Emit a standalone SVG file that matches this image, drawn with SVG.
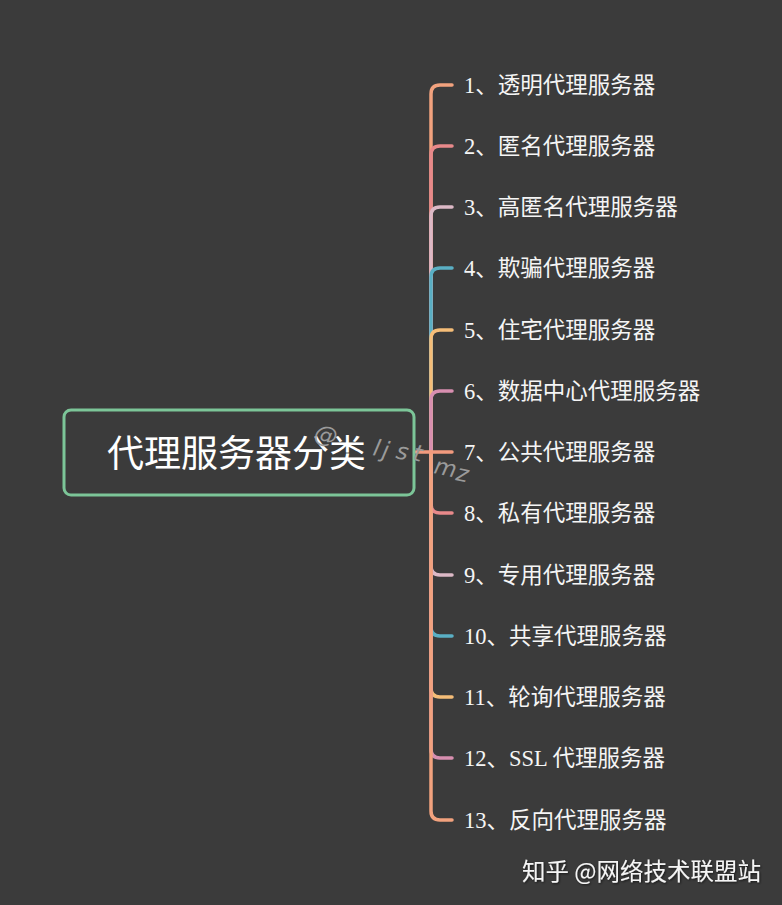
<svg xmlns="http://www.w3.org/2000/svg" width="782" height="905" viewBox="0 0 782 905">
<style>
.bg{fill:#3b3b3b}
.root{fill:none;stroke:#7cc598;stroke-width:3}
.rt{font-family:"Noto Sans CJK SC","Noto Sans",sans-serif;font-size:37px;fill:#ffffff}
.it{font-family:"Liberation Serif","Noto Sans CJK SC",serif;font-size:22.5px;fill:#f5f5f5}
.br{fill:none;stroke-width:3.5;stroke-linecap:round;stroke-linejoin:round}
.wm{font-family:"DejaVu Sans","Liberation Sans",sans-serif;font-style:italic;font-size:23px;fill:#9a9a9a}
.ft{font-family:"Noto Sans CJK SC","Noto Sans",sans-serif;font-size:23.5px;fill:#f5f5f5}
</style>
<defs>
<filter id="sh" x="-5%" y="-20%" width="110%" height="140%">
<feDropShadow dx="1" dy="1" stdDeviation="0.8" flood-color="#000000" flood-opacity="0.6"/>
</filter>
</defs>
<rect class="bg" x="0" y="0" width="782" height="905"/>
<g id="connectors">
<path class="br" stroke="#f2a27e" d="M431,452 V94 Q431,85 440,85 H452"/>
<path class="br" stroke="#e8898a" d="M431,452 V155 Q431,146 440,146 H452"/>
<path class="br" stroke="#dcb9c6" d="M431,452 V216 Q431,207 440,207 H452"/>
<path class="br" stroke="#5aafc4" d="M431,452 V277 Q431,268 440,268 H452"/>
<path class="br" stroke="#f5bd78" d="M431,452 V339 Q431,330 440,330 H452"/>
<path class="br" stroke="#d88fb0" d="M431,452 V400 Q431,391 440,391 H452"/>
<path class="br" stroke="#e8898a" d="M431,452 V504 Q431,513 440,513 H452"/>
<path class="br" stroke="#dcb9c6" d="M431,452 V566 Q431,575 440,575 H452"/>
<path class="br" stroke="#5aafc4" d="M431,452 V627 Q431,636 440,636 H452"/>
<path class="br" stroke="#f5bd78" d="M431,452 V688 Q431,697 440,697 H452"/>
<path class="br" stroke="#d88fb0" d="M431,452 V749 Q431,758 440,758 H452"/>
<path class="br" stroke="#f2a27e" d="M431,452 V811 Q431,820 440,820 H452"/>
<path class="br" stroke="#f29a7e" d="M416,452 H452"/>
</g>
<g id="root">
<rect class="root" x="64" y="410" width="350" height="85" rx="7"/>
<text class="rt" x="107" y="467">代理服务器分类</text>
</g>
<g id="n1"><text class="it" x="464" y="93">1、透明代理服务器</text></g>
<g id="n2"><text class="it" x="464" y="154">2、匿名代理服务器</text></g>
<g id="n3"><text class="it" x="464" y="215">3、高匿名代理服务器</text></g>
<g id="n4"><text class="it" x="464" y="276">4、欺骗代理服务器</text></g>
<g id="n5"><text class="it" x="464" y="338">5、住宅代理服务器</text></g>
<g id="n6"><text class="it" x="464" y="399">6、数据中心代理服务器</text></g>
<g id="n7"><text class="it" x="464" y="460">7、公共代理服务器</text></g>
<g id="n8"><text class="it" x="464" y="521">8、私有代理服务器</text></g>
<g id="n9"><text class="it" x="464" y="583">9、专用代理服务器</text></g>
<g id="n10"><text class="it" x="464" y="644">10、共享代理服务器</text></g>
<g id="n11"><text class="it" x="464" y="705">11、轮询代理服务器</text></g>
<g id="n12"><text class="it" x="464" y="766">12、SSL 代理服务器</text></g>
<g id="n13"><text class="it" x="464" y="828">13、反向代理服务器</text></g>
<g id="watermark">
<text class="wm" x="313 372 381 395 412 433 455" y="440 455 457 458 460 473 480" rotate="12">@ljstmz</text>
</g>
<g id="footer">
<text class="ft" x="522" y="880" filter="url(#sh)">知乎 @网络技术联盟站</text>
</g>
</svg>
